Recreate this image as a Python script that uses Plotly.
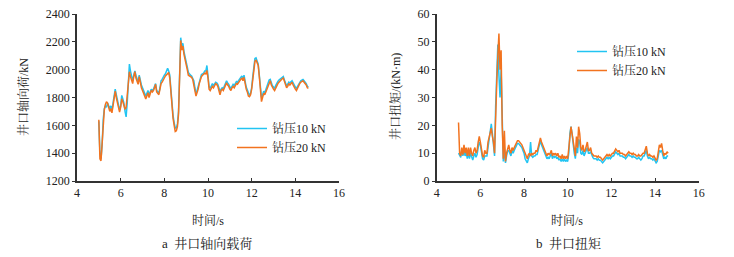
import plotly.graph_objects as go

# sample times (s): 5.00 .. 14.60 every 0.05 s
t_start, t_step, n_pts = 5.0, 0.05, 193
time_s = [round(t_start + i * t_step, 2) for i in range(n_pts)]

# axial load at wellhead, kN
axial_10kN = [
    1630, 1400, 1360, 1460, 1640, 1720, 1740, 1730, 1760, 1740,
    1720, 1740, 1710, 1760, 1800, 1860, 1820, 1780, 1740, 1710,
    1740, 1815, 1790, 1760, 1700, 1660, 1760, 1960, 2040, 1990,
    1950, 1920, 1960, 1990, 1960, 1930, 1910, 1960, 1920, 1890,
    1870, 1850, 1840, 1810, 1830, 1850, 1820, 1840, 1860, 1850,
    1860, 1880, 1900, 1850, 1840, 1830, 1870, 1920, 1930, 1950,
    1960, 1970, 1985, 2010, 1990, 1960, 1860, 1750, 1670, 1620,
    1580, 1580, 1610, 1700, 1930, 2230, 2170, 2190, 2130, 2100,
    2070, 2020, 1980, 1965, 1960, 1955, 1940, 1920, 1870, 1830,
    1850, 1880, 1920, 1950, 1965, 1970, 1975, 1990, 1990, 2030,
    1960, 1880, 1865, 1885, 1900, 1885, 1900, 1910, 1905, 1895,
    1870, 1840, 1860, 1870, 1865, 1880, 1895, 1920, 1905, 1895,
    1875, 1865, 1880, 1895, 1885, 1905, 1915, 1910, 1925, 1935,
    1945, 1955, 1935, 1960, 1905, 1875, 1855, 1825, 1815, 1830,
    1870, 1950, 2010, 2080, 2085, 2060, 2040, 1960, 1870, 1800,
    1820, 1845, 1835, 1855, 1885, 1905, 1925, 1930, 1905, 1885,
    1875, 1865, 1885, 1905, 1915, 1925, 1930, 1940, 1945, 1950,
    1925, 1895, 1885, 1895, 1910, 1905, 1915, 1920, 1905, 1885,
    1875, 1865, 1880, 1900, 1910, 1920, 1925, 1930, 1920, 1910,
    1900, 1880, 1875,
]
axial_20kN = [
    1640, 1360, 1345, 1450, 1620, 1710, 1750, 1770, 1760, 1720,
    1700, 1720, 1690, 1740, 1790, 1845, 1800, 1760, 1720, 1695,
    1730, 1790, 1770, 1740, 1715, 1730, 1820, 1940, 1985, 1950,
    1920, 1900, 1950, 1985, 1940, 1910, 1895, 1950, 1900, 1870,
    1850, 1830, 1820, 1790, 1810, 1835, 1800, 1830, 1850, 1840,
    1850, 1870, 1895, 1840, 1825, 1820, 1860, 1900, 1910, 1930,
    1940, 1955, 1965, 1975, 1980, 1940, 1830, 1720, 1650, 1600,
    1555, 1560, 1590, 1680, 1900, 2210, 2140, 2170, 2110, 2080,
    2050, 2000, 1960, 1955, 1950, 1945, 1930, 1900, 1850, 1810,
    1830, 1860, 1900, 1930, 1950, 1960, 1965, 1975, 1970, 1995,
    1940, 1860, 1850, 1870, 1880, 1870, 1885, 1900, 1895, 1880,
    1850, 1820, 1850, 1860, 1850, 1870, 1880, 1905, 1890, 1880,
    1860, 1850, 1870, 1880, 1870, 1890, 1900, 1895, 1910, 1920,
    1930, 1940, 1920, 1945, 1890, 1860, 1840, 1810, 1805, 1820,
    1860, 1930, 1990, 2060, 2070, 2050, 2030, 1950, 1850, 1770,
    1800, 1830, 1820, 1840, 1870, 1890, 1910, 1920, 1890, 1870,
    1860, 1850, 1870, 1890, 1900, 1910, 1920, 1930, 1935, 1940,
    1910, 1880, 1870, 1880, 1900, 1890, 1900, 1910, 1890, 1870,
    1860, 1850, 1870, 1890, 1900, 1910, 1915, 1920, 1910, 1900,
    1890, 1870, 1865,
]

# wellhead torque, kN·m
torque_10kN = [
    10, 9, 8.5, 11, 9, 11, 9, 10.5, 8, 10,
    8, 10, 9, 7.5, 9, 10, 8.5, 9.5, 12, 14,
    13, 10, 8, 7.5, 9, 9, 9, 12, 15, 18,
    20.5, 17, 13, 9, 27, 38, 49, 38, 30, 40,
    18, 7, 12, 6.5, 9, 11, 11, 10, 9, 11,
    10, 11, 12, 13, 13.5, 13.5, 13, 12.5, 12, 11,
    10, 8, 7, 6.5, 8, 9, 14, 9, 8.5, 9,
    9, 9.5, 9.5, 11, 12, 14.5, 13, 12, 11, 10,
    9, 8, 8.5, 8, 9, 10, 8, 9, 8.5, 9,
    8, 8.5, 7.5, 8, 7, 8, 7, 8, 7, 7.5,
    7, 10, 17, 19.5, 17, 13, 10, 8, 12, 10,
    15, 14, 10, 9.5, 11, 9, 10, 11, 12, 10,
    10, 10.5, 9, 8.5, 8, 8, 8, 7.5, 8, 7.5,
    7.5, 7, 6.5, 7, 7.5, 8, 8.5, 8, 8.5, 8,
    8.5, 9, 9, 10, 10.5, 10, 9.5, 10, 9, 9,
    9, 8.5, 8.5, 8, 8.5, 9, 9.5, 9, 9, 8.5,
    9, 8.5, 8.5, 8, 8, 8.5, 8, 7.5, 8, 9,
    9, 10, 11, 9, 8, 8.5, 8, 8, 7.5, 8,
    7, 6.5, 7, 9.5, 11, 10.5, 11, 9.5, 8, 8.5,
    8, 9, 9,
]
torque_20kN = [
    21, 10, 9, 12, 9.5, 13, 10, 12, 9, 12,
    9, 12, 10, 9, 11, 12, 10, 11, 14, 16,
    14, 12, 9, 8.5, 11, 10, 10, 14, 16, 17,
    19, 16, 14, 10, 28, 35, 45, 53, 40, 47,
    20, 8, 18, 7, 10, 12, 13, 11, 10, 12,
    11, 12, 13, 14, 14.5, 14.5, 14, 13.5, 13, 12,
    11, 10, 8.5, 8, 9.5, 10, 9, 10, 9.5, 10,
    10, 11, 10.5, 12, 13, 15.5, 14, 13, 12, 11,
    10, 9, 10, 9.5, 10, 11, 9, 10, 9.5, 10,
    9, 10, 8.5, 9, 8, 9.5, 8, 9, 8, 9,
    8, 12, 18, 19.5, 17, 14, 11, 9, 16, 12,
    19.5, 17, 12, 11, 13, 10.5, 11, 13, 14, 11,
    11, 12, 10, 9.5, 9, 9, 9, 8.5, 9, 8.5,
    8.5, 8, 7.5, 8, 8.5, 9, 9.5, 9, 9.5, 9,
    9.5, 10, 10, 11, 11.5, 11, 10.5, 11, 10, 10,
    10, 9.5, 9.5, 9, 9.5, 10, 10.5, 10, 10, 9.5,
    10, 9.5, 9.5, 9, 9, 9.5, 9, 9, 9.5, 10,
    10, 11, 12.5, 10, 9, 9.5, 9, 9, 8.5, 9,
    8, 7.5, 8, 11, 13, 12, 13.5, 11, 9, 10,
    9.5, 10.5, 10,
]

series_names = ["钻压10 kN", "钻压20 kN"]
x_ticks = [4, 6, 8, 10, 12, 14, 16]
axial_ticks = [1200, 1400, 1600, 1800, 2000, 2200, 2400]
torque_ticks = [0, 10, 20, 30, 40, 50, 60]

W, H = 734, 257
CYAN = "#22C4F2"
ORANGE = "#F2731F"
AX = "#333333"
FONT = "Liberation Serif, Noto Serif CJK SC, Noto Sans CJK SC, serif"

def px(x):
    return x / W

def py(y):
    return 1 - y / H

fig = go.Figure()
fig.add_trace(go.Scatter(x=time_s, y=axial_10kN, name=series_names[0], mode="lines",
                         line=dict(color=CYAN, width=1.5), xaxis="x", yaxis="y", legend="legend"))
fig.add_trace(go.Scatter(x=time_s, y=axial_20kN, name=series_names[1], mode="lines",
                         line=dict(color=ORANGE, width=1.5), xaxis="x", yaxis="y", legend="legend"))
fig.add_trace(go.Scatter(x=time_s, y=torque_10kN, name=series_names[0], mode="lines",
                         line=dict(color=CYAN, width=1.5), xaxis="x2", yaxis="y2", legend="legend2"))
fig.add_trace(go.Scatter(x=time_s, y=torque_20kN, name=series_names[1], mode="lines",
                         line=dict(color=ORANGE, width=1.5), xaxis="x2", yaxis="y2", legend="legend2"))

tickfont = dict(family=FONT, size=12, color="#222222")
xcommon = dict(range=[4, 16], tickvals=x_ticks, showline=True, linecolor=AX, linewidth=1.5,
               ticks="inside", ticklen=3, tickcolor=AX, showgrid=False, zeroline=False,
               tickfont=tickfont, fixedrange=True, automargin=False)
ycommon = dict(showline=True, linecolor=AX, linewidth=1.5, ticks="outside", ticklen=3,
               tickcolor=AX, showgrid=False, zeroline=False, tickfont=tickfont, fixedrange=True,
               automargin=False)

legfont = dict(family=FONT, size=12, color="#222222")
fig.update_layout(
    width=W, height=H,
    margin=dict(l=0, r=0, t=0, b=0, autoexpand=False),
    paper_bgcolor="white", plot_bgcolor="white",
    showlegend=True,
    xaxis=dict(domain=[px(77), px(339)], anchor="y", **xcommon),
    yaxis=dict(domain=[py(181), py(14)], anchor="x", range=[1200, 2400], tickvals=axial_ticks, **ycommon),
    xaxis2=dict(domain=[px(436.7), px(698.7)], anchor="y2", **xcommon),
    yaxis2=dict(domain=[py(181), py(14)], anchor="x2", range=[0, 60], tickvals=torque_ticks, **ycommon),
    legend=dict(x=px(232), y=py(114), xanchor="left", yanchor="top", bgcolor="rgba(0,0,0,0)",
                font=legfont, itemwidth=30, tracegroupgap=0, tracegroupgap_=None) if False else
    dict(x=px(232), y=py(114), xanchor="left", yanchor="top", bgcolor="rgba(0,0,0,0)",
         font=legfont, itemwidth=30, tracegroupgap=0),
    legend2=dict(x=px(572), y=py(37), xanchor="left", yanchor="top", bgcolor="rgba(0,0,0,0)",
                 font=legfont, itemwidth=30, tracegroupgap=0),
)

def ann(text, x, y, size=12, angle=0):
    fig.add_annotation(text=text, x=px(x), y=py(y), xref="paper", yref="paper",
                       showarrow=False, textangle=angle, xanchor="center", yanchor="middle",
                       font=dict(family=FONT, size=size, color="#222222"))

ann("井口轴向荷/kN", 23, 97, angle=-90)
ann("井口扭矩/(kN·m)", 395, 97, angle=-90)
ann("时间/s", 208, 220)
ann("时间/s", 567, 220)
ann("a  井口轴向载荷", 207, 243, size=13)
ann("b  井口扭矩", 568, 243, size=13)

fig.write_html("out.html", config={"displayModeBar": False},
               post_script="document.body.style.margin='0';document.body.style.overflow='hidden';")
